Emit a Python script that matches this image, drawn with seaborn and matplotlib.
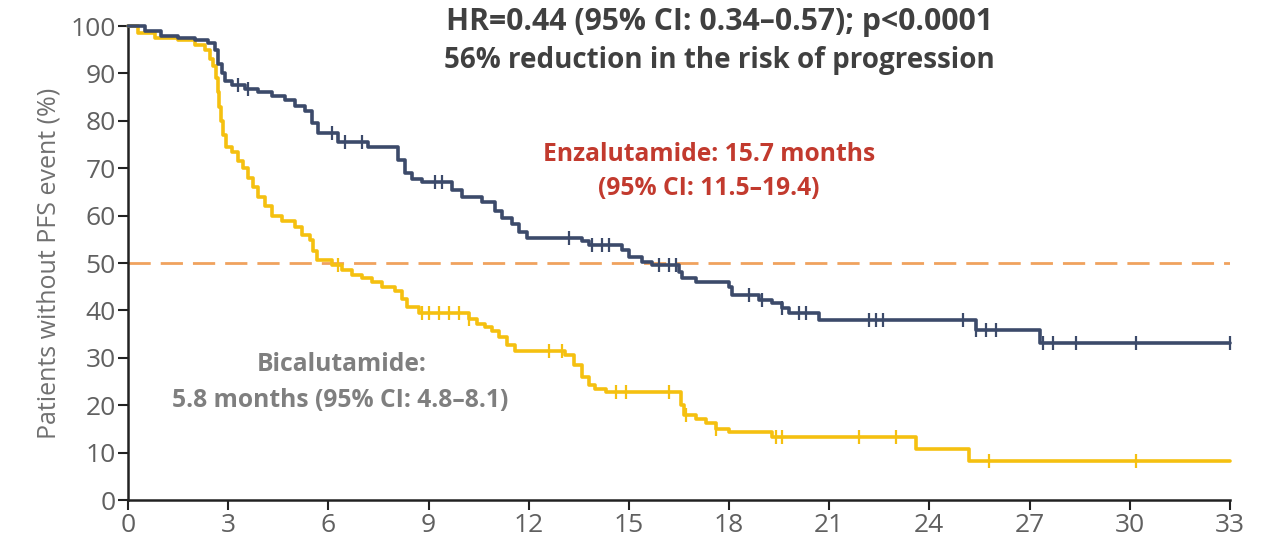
import numpy as np
import pandas as pd
import matplotlib
matplotlib.use("Agg")
import matplotlib.pyplot as plt
import seaborn as sns

# Kaplan-Meier step data: months and % without PFS event (level after each step)
enza_time = [0, 0.5, 1.0, 1.5, 2.0, 2.4, 2.6, 2.7, 2.8, 2.9, 3.1, 3.5, 3.9, 4.3, 4.7,
             5.0, 5.3, 5.5, 5.7, 6.3, 7.2, 8.1, 8.3, 8.5, 8.8, 9.7, 10.0, 10.6, 11.0,
             11.2, 11.5, 11.7, 11.95, 13.6, 13.8, 14.8, 15.0, 15.4, 15.7, 16.5, 16.6,
             17.0, 18.0, 18.1, 18.9, 19.3, 19.6, 19.8, 20.7, 25.4, 27.3, 33.0]
enza_surv = [100, 99, 98, 97.5, 97, 96.5, 95, 92, 90, 88.5, 87.5, 86.8, 86, 85.2, 84.4,
             83.2, 82, 79.5, 77.4, 75.5, 74.5, 71.7, 69, 67.8, 67.1, 65.5, 63.9, 62.9, 61,
             59.5, 58.2, 56.5, 55.3, 54.6, 53.8, 52.7, 51.3, 50.2, 49.6, 48.2, 46.8,
             46, 45, 43.2, 42.3, 41.5, 40.6, 39.4, 38.0, 35.9, 33.1, 33.1]
enza_censor = [3.3, 3.6, 6.1, 6.5, 7.0, 9.2, 9.4, 13.2, 13.9, 14.2, 14.4, 15.9, 16.2, 16.4,
               18.6, 19.0, 19.6, 20.1, 20.3, 22.2, 22.4, 22.6, 25.0, 25.4, 25.7, 26.0,
               27.4, 27.7, 28.4, 30.2, 33.0]

bica_time = [0, 0.3, 0.8, 1.5, 2.0, 2.3, 2.45, 2.55, 2.62, 2.68, 2.73, 2.78, 2.85, 2.93,
             3.1, 3.3, 3.45, 3.6, 3.75, 3.9, 4.1, 4.3, 4.6, 5.0, 5.2, 5.45, 5.55, 5.65,
             6.1, 6.4, 6.7, 7.0, 7.3, 7.6, 8.0, 8.2, 8.35, 8.7, 10.2, 10.45, 10.7, 10.9,
             11.1, 11.35, 11.6, 13.1, 13.35, 13.6, 13.8, 14.0, 14.3, 16.55, 16.65, 17.0,
             17.3, 17.6, 18.0, 19.3, 23.6, 25.2, 33.0]
bica_surv = [100, 98.5, 97.5, 97, 96, 95, 93, 91.5, 89, 86, 83, 80, 77, 74.5,
             73.5, 71.5, 70, 68, 66, 64, 62, 60, 58.8, 57.5, 56, 54.8, 52.5, 50.6,
             49.5, 48.5, 47.5, 46.8, 46, 45, 44, 42.5, 40.8, 39.4, 38.2, 37.2, 36.4, 35.6,
             34.3, 32.7, 31.5, 30.5, 28.5, 26, 24.3, 23.4, 22.8, 20, 18, 17.2,
             16.3, 15.0, 14.4, 13.4, 10.7, 8.3, 8.3]
bica_censor = [6.3, 8.8, 9.0, 9.3, 9.6, 9.9, 10.2, 12.6, 13.0, 14.6, 14.9, 16.2, 16.7,
               17.6, 19.4, 19.6, 21.9, 23.0, 25.8, 30.2]

x_ticks = list(range(0, 34, 3))
y_ticks = list(range(0, 101, 10))

NAVY = "#3c4a6a"
GOLD = "#f5c010"
DASH = "#f0a25e"


def level_at(times, surv, t):
    idx = np.searchsorted(times, t, side="right") - 1
    return np.asarray(surv)[idx]


sns.set_style("ticks")
plt.rcParams["font.family"] = ["Open Sans", "DejaVu Sans"]

fig = plt.figure(figsize=(12.64, 5.46), dpi=100)
ax = fig.add_axes([0.1013, 0.0842, 0.8717, 0.8681])

ax.axhline(50, color=DASH, lw=2, dashes=(8, 3.6), zorder=1)

for times, surv, cens, col in [(bica_time, bica_surv, bica_censor, GOLD),
                               (enza_time, enza_surv, enza_censor, NAVY)]:
    df = pd.DataFrame({"t": times, "s": surv})
    sns.lineplot(data=df, x="t", y="s", drawstyle="steps-post", estimator=None,
                 color=col, lw=2.6, ax=ax, clip_on=False, zorder=3)
    cdf = pd.DataFrame({"t": cens, "s": level_at(times, surv, np.array(cens))})
    sns.scatterplot(data=cdf, x="t", y="s", marker="|", s=90, linewidth=1.6,
                    color=col, ax=ax, clip_on=False, zorder=4)

ax.set_xlim(0, 33)
ax.set_ylim(0, 100)
ax.set_xticks(x_ticks)
ax.set_yticks(y_ticks)
ax.set_xlabel("")
ax.set_ylabel("Patients without PFS event (%)", fontsize=18, color="#707070", labelpad=6)
ax.tick_params(axis="both", length=7, width=1.5, color="#222222",
               labelsize=19, labelcolor="#606060", pad=2)
for side in ("top", "right"):
    ax.spines[side].set_visible(False)
for side in ("left", "bottom"):
    ax.spines[side].set_linewidth(1.8)
    ax.spines[side].set_color("#222222")

ax.text(17.7, 100.8, "HR=0.44 (95% CI: 0.34\u20130.57); p<0.0001", ha="center", va="center",
        fontsize=21.7, fontweight="bold", color="#404040", clip_on=False)
ax.text(17.7, 92.8, "56% reduction in the risk of progression", ha="center", va="center",
        fontsize=20, fontweight="bold", color="#404040")
ax.text(17.4, 72.8, "Enzalutamide: 15.7 months", ha="center", va="center",
        fontsize=17.7, fontweight="bold", color="#c23a2e")
ax.text(17.4, 65.8, "(95% CI: 11.5\u201319.4)", ha="center", va="center",
        fontsize=17.7, fontweight="bold", color="#c23a2e")
ax.text(6.4, 28.5, "Bicalutamide:", ha="center", va="center",
        fontsize=17.7, fontweight="bold", color="#7f7f7f")
ax.text(6.35, 21.1, "5.8 months (95% CI: 4.8\u20138.1)", ha="center", va="center",
        fontsize=17.7, fontweight="bold", color="#7f7f7f")

fig.savefig("out.png", dpi=100)
